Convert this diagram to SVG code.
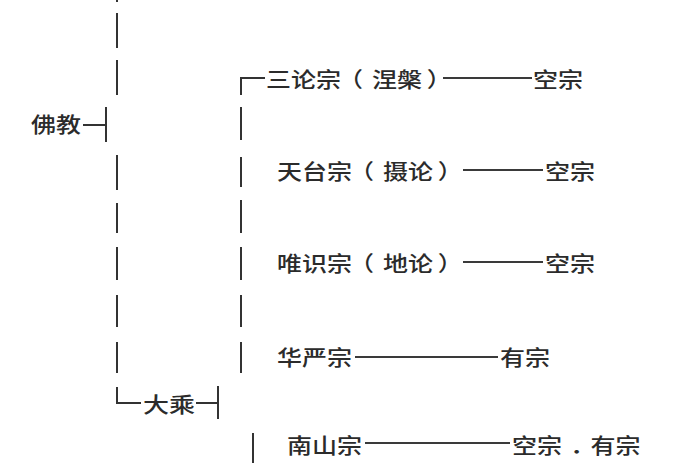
<svg xmlns="http://www.w3.org/2000/svg" width="700" height="470" viewBox="0 0 700 470">
<style>
.t{font-family:"Noto Sans CJK SC","Noto Sans",sans-serif;font-size:21px;font-weight:500;fill:#2b2b2b}
.ln{fill:none;stroke:#333;stroke-width:2}
.cn{fill:none;stroke:#3a3a3a;stroke-width:2.2}
</style>
<rect width="700" height="470" fill="#fff"/>
<g id="connectors">
<path class="ln" d="M117 -30V2M117 13V48M117 60V95M117 155V190M117 203V233M117 247V280M117 295V327M117 342V373M117 387V403H141"/>
<path class="ln" d="M83 125H106M106 107V142"/>
<path class="ln" d="M196 403H217M218 386V419"/>
<path class="ln" d="M265 78H241V95M241 107V140M241 157V187M241 200V233M241 247V280M241 295V327M241 342V373"/>
<path class="ln" d="M253 433V463"/>
<path class="cn" d="M443 78H532M463 170H543M463 262H543M355 357H498M365 443H510"/>
</g>
<g id="n-fojiao"><text class="t" transform="translate(31,132) scale(1.19,1)">佛教</text></g>
<g id="n-dacheng"><text class="t" transform="translate(143,412) scale(1.24,1)">大乘</text></g>
<g id="n-sanlun"><text class="t" transform="translate(266,87) scale(1.19,1)" dx="0 0 0 -2.5 7.5 0 4">三论宗（涅槃）</text></g>
<g id="n-sanlun-kong"><text class="t" transform="translate(533,87) scale(1.19,1)">空宗</text></g>
<g id="n-tiantai"><text class="t" transform="translate(277,179) scale(1.19,1)" dx="0 0 0 -2.5 7.5 0 4">天台宗（摄论）</text></g>
<g id="n-tiantai-kong"><text class="t" transform="translate(545,179) scale(1.19,1)">空宗</text></g>
<g id="n-weishi"><text class="t" transform="translate(277,271) scale(1.19,1)" dx="0 0 0 -2.5 7.5 0 4">唯识宗（地论）</text></g>
<g id="n-weishi-kong"><text class="t" transform="translate(545,271) scale(1.19,1)">空宗</text></g>
<g id="n-huayan"><text class="t" transform="translate(277,365) scale(1.19,1)">华严宗</text></g>
<g id="n-huayan-you"><text class="t" transform="translate(500,365) scale(1.19,1)">有宗</text></g>
<g id="n-nanshan"><text class="t" transform="translate(287,453) scale(1.19,1)">南山宗</text></g>
<g id="n-nanshan-kongyou"><text class="t" transform="translate(512,453) scale(1.19,1)" dx="0 0 7 -4 0">空宗．有宗</text></g>
</svg>
